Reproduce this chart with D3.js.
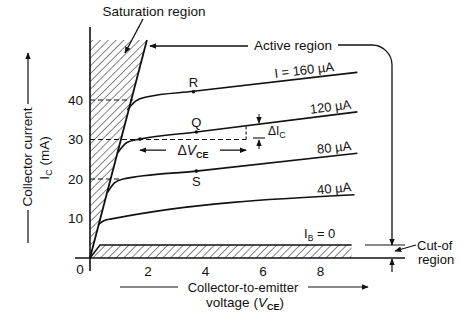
<!DOCTYPE html>
<html>
<head>
<meta charset="utf-8">
<script src="https://cdn.jsdelivr.net/npm/d3@7"></script>
<style>
  body { margin: 0; background: #fff; }
  svg text { font-family: "Liberation Sans", Arial, sans-serif; fill: #111; }
</style>
</head>
<body>
<div id="chart"></div>
<script>
// collector characteristics: [Vce, Ic]
var xTicks = [2, 4, 6, 8];
var yTicks = [10, 20, 30, 40];
var curve160 = [[1.3, 37.5], [1.6, 39.8], [2.0, 40.8], [3.6, 42.2], [9.3, 47]];
var curve120 = [[0.95, 26.5], [1.3, 29.3], [1.74, 30.1], [3.7, 31.9], [9.3, 37]];
var curve80 = [[0.6, 16.5], [0.85, 19], [1.15, 20], [3.7, 22], [9.3, 26.5]];
var curve40 = [[0.28, 8.4], [0.5, 9.5], [0.75, 9.9], [9.2, 16]];
var curveLabels = ["I = 160 \u00b5A", "120 \u00b5A", "80 \u00b5A", "40 \u00b5A"];
var points = [["R", 3.6, 42.1], ["Q", 3.7, 31.9], ["S", 3.7, 22]];
var satRegion = [[0, 0], [0, 55.2], [1.98, 55.2]];
var cutRegion = [[0, 0], [0.35, 3.3], [9.1, 3.3], [9.1, 0]];

function init(){
    var w = 467, h = 315;

    var x = d3.scaleLinear().domain([0, 10]).range([90, 377.5]);
    var y = d3.scaleLinear().domain([0, 50]).range([258, 60.5]);

    var svg = d3.select("#chart").append("svg")
                .attr("width", w).attr("height", h);

    var defs = svg.append("defs");
    defs.append("marker").attr("id", "arr")
        .attr("viewBox", "0 0 10 10").attr("refX", 9).attr("refY", 5)
        .attr("markerWidth", 7).attr("markerHeight", 7)
        .attr("markerUnits", "userSpaceOnUse")
        .attr("orient", "auto-start-reverse")
        .append("path").attr("d", "M0,1 L10,5 L0,9 Z").attr("fill", "#111");

    var pat = defs.append("pattern").attr("id", "hatch")
        .attr("patternUnits", "userSpaceOnUse")
        .attr("width", 5.5).attr("height", 5.5)
        .attr("patternTransform", "rotate(45)");
    pat.append("line").attr("x1", 0).attr("y1", 0).attr("x2", 0).attr("y2", 5.5)
        .attr("stroke", "#222").attr("stroke-width", 1.1);

    var line = d3.line()
        .x(function(d){ return x(d[0]); })
        .y(function(d){ return y(d[1]); })
        .curve(d3.curveMonotoneX);
    var poly = d3.line()
        .x(function(d){ return x(d[0]); })
        .y(function(d){ return y(d[1]); });

    // hatched regions
    svg.append("path").attr("d", poly(satRegion) + "Z").attr("fill", "url(#hatch)");
    svg.append("path").attr("d", poly(cutRegion) + "Z").attr("fill", "url(#hatch)");
    svg.append("line")
        .attr("x1", x(0)).attr("y1", y(0)).attr("x2", x(satRegion[2][0])).attr("y2", y(satRegion[2][1]))
        .attr("stroke", "#111").attr("stroke-width", 1.8);
    svg.append("path").attr("d", poly(cutRegion.slice(0, 3)))
        .attr("fill", "none").attr("stroke", "#111").attr("stroke-width", 1.5);

    // dashed guides
    var dashes = [[40, 1.5], [30, 5.43], [20, 1.1]];
    svg.selectAll(".guide").data(dashes).enter().append("line")
        .attr("x1", x(0)).attr("x2", function(d){ return x(d[1]); })
        .attr("y1", function(d){ return y(d[0]); }).attr("y2", function(d){ return y(d[0]); })
        .attr("stroke", "#111").attr("stroke-width", 1.1).attr("stroke-dasharray", "5,3");
    svg.append("line")
        .attr("x1", x(5.43)).attr("x2", x(5.43)).attr("y1", y(30)).attr("y2", y(33.3))
        .attr("stroke", "#111").attr("stroke-width", 1.1).attr("stroke-dasharray", "3,2");

    // axes
    svg.append("line").attr("x1", x(0)).attr("x2", x(0)).attr("y1", 27).attr("y2", 271)
        .attr("stroke", "#111").attr("stroke-width", 1.6);
    svg.append("line").attr("x1", 75).attr("x2", 405).attr("y1", y(0)).attr("y2", y(0))
        .attr("stroke", "#111").attr("stroke-width", 1.4);

    var xa = svg.append("g").attr("transform", "translate(0," + y(0) + ")")
        .call(d3.axisBottom(x).tickValues(xTicks).tickSize(0).tickPadding(8));
    var ya = svg.append("g").attr("transform", "translate(" + x(0) + ",0)")
        .call(d3.axisLeft(y).tickValues(yTicks).tickSize(0).tickPadding(7));
    [xa, ya].forEach(function(g){
        g.select(".domain").remove();
        g.selectAll("text").attr("font-size", 13.5).attr("font-family", null).attr("fill", "#111");
    });
    svg.append("text").attr("x", 80).attr("y", 274).attr("text-anchor", "middle")
        .attr("font-size", 13.5).text("0");

    // characteristic curves
    var curves = [curve160, curve120, curve80, curve40];
    svg.selectAll(".curve").data(curves).enter().append("path")
        .attr("d", line).attr("fill", "none")
        .attr("stroke", "#111").attr("stroke-width", 1.6);

    var labelAt = [8.5, 9.1, 9.1, 9.1];
    curves.forEach(function(c, i){
        var a = c[c.length - 2], b = c[c.length - 1];
        var v = labelAt[i];
        var ic = a[1] + (b[1] - a[1]) * (v - a[0]) / (b[0] - a[0]);
        var ang = Math.atan2(y(b[1]) - y(a[1]), x(b[0]) - x(a[0])) * 180 / Math.PI;
        svg.append("text")
            .attr("transform", "translate(" + x(v) + "," + (y(ic) - 4) + ") rotate(" + ang + ")")
            .attr("text-anchor", "end").attr("font-size", 13)
            .text(curveLabels[i]);
    });

    // operating points
    svg.selectAll(".pt").data(points).enter().append("circle")
        .attr("cx", function(d){ return x(d[1]); }).attr("cy", function(d){ return y(d[2]); })
        .attr("r", 1.8).attr("fill", "#111");
    svg.append("circle").attr("cx", x(1.74)).attr("cy", y(30.1)).attr("r", 1.8).attr("fill", "#111");
    svg.selectAll(".ptl").data(points).enter().append("text")
        .attr("x", function(d){ return x(d[1]); })
        .attr("y", function(d){ return d[0] == "S" ? y(d[2]) + 15 : y(d[2]) - 5; })
        .attr("text-anchor", "middle").attr("font-size", 13)
        .text(function(d){ return d[0]; });

    // delta Vce
    svg.append("line").attr("x1", x(1.74)).attr("x2", x(5.43)).attr("y1", y(27.3)).attr("y2", y(27.3))
        .attr("stroke", "#111").attr("stroke-width", 1.1)
        .attr("marker-start", "url(#arr)").attr("marker-end", "url(#arr)");
    svg.append("rect").attr("x", 166).attr("y", y(27.3) - 8).attr("width", 54).attr("height", 16).attr("fill", "#fff");
    var dv = svg.append("text").attr("x", 193).attr("y", y(27.3) + 5).attr("text-anchor", "middle").attr("font-size", 14);
    dv.append("tspan").text("\u0394");
    dv.append("tspan").attr("font-style", "italic").text("V");
    dv.append("tspan").attr("font-size", 9).attr("dy", 3).attr("font-weight", "bold").text("CE");

    // delta Ic
    svg.append("line").attr("x1", 253).attr("x2", 265).attr("y1", 138).attr("y2", 138)
        .attr("stroke", "#111").attr("stroke-width", 1.1);
    svg.append("line").attr("x1", 259).attr("x2", 259).attr("y1", 114).attr("y2", 123)
        .attr("stroke", "#111").attr("stroke-width", 1).attr("marker-end", "url(#arr)");
    svg.append("line").attr("x1", 259).attr("x2", 259).attr("y1", 149).attr("y2", 140)
        .attr("stroke", "#111").attr("stroke-width", 1).attr("marker-end", "url(#arr)");
    var di = svg.append("text").attr("x", 268).attr("y", 135).attr("font-size", 12);
    di.append("tspan").text("\u0394I");
    di.append("tspan").attr("font-size", 9).attr("dy", 3).text("C");

    // saturation label
    svg.append("text").attr("x", 154).attr("y", 16).attr("text-anchor", "middle")
        .attr("font-size", 13.5).text("Saturation region");
    svg.append("line").attr("x1", 143).attr("y1", 19).attr("x2", 125).attr("y2", 53)
        .attr("stroke", "#111").attr("stroke-width", 1.3).attr("marker-end", "url(#arr)");

    // active region
    svg.append("text").attr("x", 293).attr("y", 50).attr("text-anchor", "middle")
        .attr("font-size", 13.5).text("Active region");
    svg.append("line").attr("x1", 248).attr("y1", 46).attr("x2", 150).attr("y2", 46)
        .attr("stroke", "#111").attr("stroke-width", 1.3).attr("marker-end", "url(#arr)");
    svg.append("path").attr("d", "M338,45 H372 A20,20 0 0 1 392,65 V245")
        .attr("fill", "none").attr("stroke", "#111").attr("stroke-width", 1.3)
        .attr("marker-end", "url(#arr)");

    // cut-off region
    var ib = svg.append("text").attr("x", 304).attr("y", 238).attr("font-size", 13);
    ib.append("tspan").text("I");
    ib.append("tspan").attr("font-size", 8.5).attr("dy", 3).text("B");
    ib.append("tspan").attr("dy", -3).text(" = 0");
    svg.append("line").attr("x1", 365).attr("x2", 405).attr("y1", y(3.3)).attr("y2", y(3.3))
        .attr("stroke", "#111").attr("stroke-width", 1.1);
    svg.append("line").attr("x1", 392).attr("x2", 392).attr("y1", 272).attr("y2", 259)
        .attr("stroke", "#111").attr("stroke-width", 1.2).attr("marker-end", "url(#arr)");
    svg.append("line").attr("x1", 416).attr("y1", 245).attr("x2", 395).attr("y2", 251)
        .attr("stroke", "#111").attr("stroke-width", 1.1).attr("marker-end", "url(#arr)");
    svg.append("text").attr("x", 417).attr("y", 250).attr("font-size", 13).text("Cut-of");
    svg.append("text").attr("x", 418).attr("y", 264).attr("font-size", 13).text("region");

    // axis titles
    svg.append("text").attr("transform", "translate(32,157) rotate(-90)")
        .attr("text-anchor", "middle").attr("font-size", 13.5).text("Collector current");
    var yl = svg.append("text").attr("transform", "translate(49,158) rotate(-90)")
        .attr("text-anchor", "middle").attr("font-size", 13.5);
    yl.append("tspan").text("I");
    yl.append("tspan").attr("font-size", 9).attr("dy", 3).text("C");
    yl.append("tspan").attr("dy", -3).text(" (mA)");
    svg.append("line").attr("x1", 28).attr("x2", 28).attr("y1", 104).attr("y2", 53)
        .attr("stroke", "#111").attr("stroke-width", 1.2).attr("marker-end", "url(#arr)");
    svg.append("line").attr("x1", 28).attr("x2", 28).attr("y1", 210).attr("y2", 243)
        .attr("stroke", "#111").attr("stroke-width", 1.2);

    svg.append("text").attr("x", 243).attr("y", 292).attr("text-anchor", "middle")
        .attr("font-size", 13).text("Collector-to-emitter");
    svg.append("line").attr("x1", 120).attr("x2", 178).attr("y1", 287).attr("y2", 287)
        .attr("stroke", "#111").attr("stroke-width", 1.2);
    svg.append("line").attr("x1", 308).attr("x2", 368).attr("y1", 287).attr("y2", 287)
        .attr("stroke", "#111").attr("stroke-width", 1.2).attr("marker-end", "url(#arr)");
    var xl = svg.append("text").attr("x", 245).attr("y", 307).attr("text-anchor", "middle")
        .attr("font-size", 13.5);
    xl.append("tspan").text("voltage (");
    xl.append("tspan").attr("font-style", "italic").text("V");
    xl.append("tspan").attr("font-size", 9).attr("dy", 3).attr("font-weight", "bold").text("CE");
    xl.append("tspan").attr("dy", -3).text(")");
}
window.onload = init;
</script>
</body>
</html>
